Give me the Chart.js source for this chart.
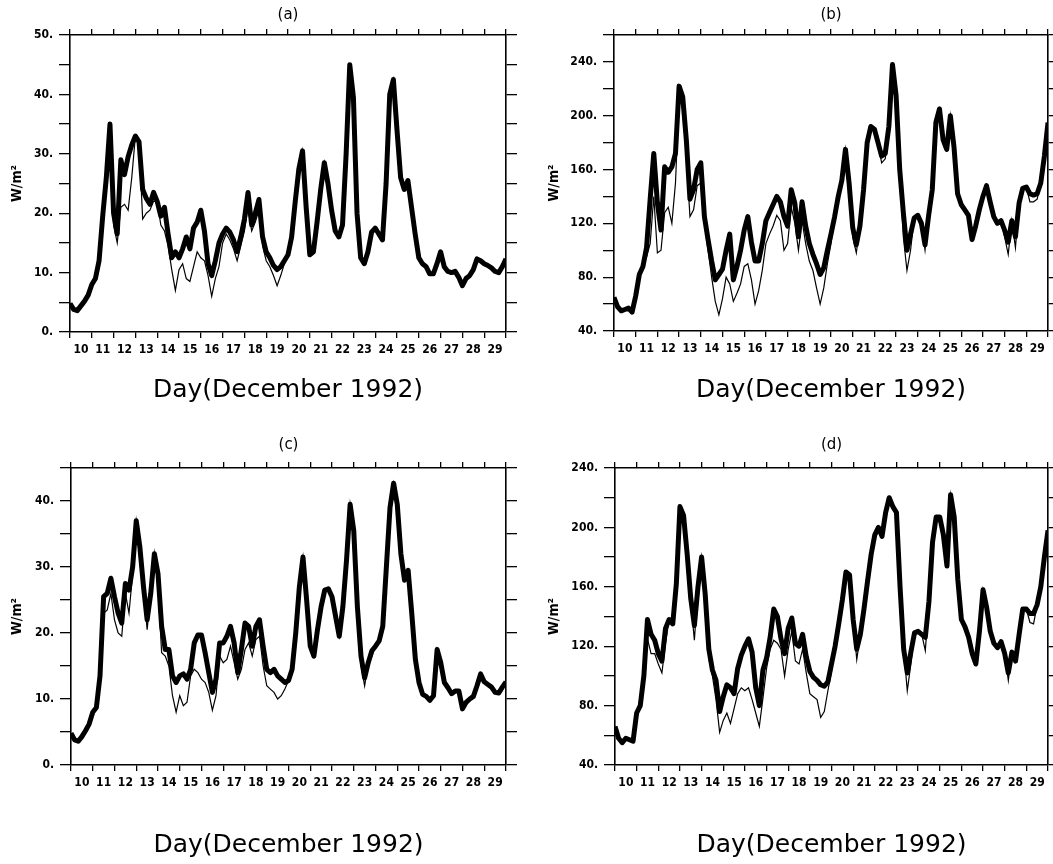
<!DOCTYPE html>
<html>
<head>
<meta charset="utf-8">
<title>Day(December 1992)</title>
<script src="https://cdn.jsdelivr.net/npm/chart.js@4.4.0/dist/chart.umd.min.js"></script>
<style>
  body { margin: 0; background: #fff; }
  #wrap { position: relative; width: 1053px; height: 864px; overflow: hidden; }
  #wrap canvas { position: absolute; }
</style>
</head>
<body>
<div id="wrap">
  <canvas id="panelA" width="520" height="410" style="left:0;top:0"></canvas>
  <canvas id="panelB" width="523" height="410" style="left:530px;top:0"></canvas>
  <canvas id="panelC" width="520" height="444" style="left:0;top:420px"></canvas>
  <canvas id="panelD" width="523" height="444" style="left:530px;top:420px"></canvas>
</div>
<script>
// samples every 4 hours, 00h Dec 10 .. 00h Dec 30
var days = Array.from({length: 121}, function (_, i) { return 10 + i / 6; });
var dayTicks = ['10','11','12','13','14','15','16','17','18','19','20','21','22','23','24','25','26','27','28','29'];

var aYLabels = [0, 10, 20, 30, 40, 50];
var bYLabels = [40, 80, 120, 160, 200, 240];
var cYLabels = [0, 10, 20, 30, 40];
var dYLabels = [40, 80, 120, 160, 200, 240];

var aThick = [4.8,3.8,3.6,4.4,5.2,6.2,8.0,9.0,12,19.5,
  26,35,20,16.5,29,26.5,29.5,31.5,33,32,
  24,22.5,21.5,23.5,22,19.5,21,16.5,12.5,13.5,
  12.5,14,16,14,17.5,18.5,20.5,17,11.5,9.5,
  12,15,16.5,17.5,16.8,15.5,13.5,16,19,23.5,
  18,20,22.3,16,13.5,12.5,11.2,10.5,11,12,
  13,16,22,27.5,30.5,21,13,13.5,18.5,24,
  28.5,25,20.5,17,16,18,30,45,39.5,20,
  12.5,11.5,13.5,16.8,17.5,16.5,15.5,25,40,42.5,
  34,26,24,25.5,21,16.5,12.5,11.5,11,9.8,
  9.8,11.5,13.5,11,10.2,10,10.2,9.2,7.8,9,
  9.5,10.5,12.3,12,11.5,11.2,10.8,10.2,10,11,
  12.3];
var aThin = [4.8,3.8,3.6,4.4,5.2,6.2,8.0,9.0,12,19.5,
  26,29,18,15,21,21.5,20.5,26,33,32,
  19,20,20.5,22,22,18,17,14.5,10.5,7,
  10.5,11.5,9,8.5,11,13.5,12.5,12,9.5,6,
  9,11,15,16.5,15.5,14,12,14.5,17,21,
  17,18.5,20.5,14.5,12,11,9.5,7.8,9.5,11.5,
  13,16,22,27.5,30.5,21,13,13.5,18.5,24,
  28.5,25,20.5,17,16,18,30,45,39.5,20,
  12.5,11.5,13.5,16.8,17.5,16.5,15.5,25,40,42.5,
  34,26,24,25.5,21,16.5,12.5,11.5,11,9.8,
  9.8,11.5,13.5,11,10.2,10,10.2,9.2,7.8,9,
  9.5,10.5,12.3,12,11.5,11.2,10.8,10.2,10,11,
  12.3];

var bThick = [65,58,55,56,57,54,66,82,88,102,
  138,172,135,115,162,158,162,172,222,214,
  182,138,145,160,165,125,108,92,78,82,
  86,100,112,78,88,100,115,125,106,92,
  92,105,122,128,134,140,136,125,118,145,
  135,110,136,118,105,97,90,82,87,100,
  112,125,140,152,175,150,117,104,118,145,
  180,192,190,180,170,172,192,238,215,160,
  128,100,112,124,126,120,104,126,145,195,
  205,182,175,200,177,142,134,130,126,108,
  118,130,140,148,136,125,120,122,115,106,
  122,110,135,146,147,142,141,142,150,170,
  195];
var bThin = [65,58,55,56,57,54,66,82,88,95,
  105,140,98,100,128,132,120,150,215,205,
  170,125,130,148,150,120,100,80,62,52,
  64,80,75,62,68,75,88,90,78,60,
  70,85,105,112,118,126,122,100,105,132,
  120,100,122,105,92,85,72,60,72,90,
  105,125,140,152,175,150,110,98,118,145,
  180,192,190,180,165,168,192,238,215,160,
  110,85,100,124,126,120,100,126,145,195,
  205,182,175,200,177,142,134,130,126,108,
  118,130,140,148,136,125,120,122,110,97,
  122,102,135,146,147,136,136,138,150,170,
  195];

var cThick = [4.8,3.8,3.6,4.3,5.2,6.2,8,8.7,13.5,25.5,
  26,28.3,25.5,23,21.5,27.5,26.5,30,37,33,
  27,22,26,32,29,21,17.5,17.5,13.5,12.5,
  13.5,13.8,13,14.5,18.5,19.7,19.7,17,14,11,
  13,18.5,18.5,19.5,21,18.5,14,17.5,21.5,21,
  18,21,22,18,14.5,14,14.5,13.5,13,12.5,
  12.8,14.5,20,27,31.5,25,18,16.5,20.5,24,
  26.5,26.7,25.5,22.5,19.5,24,31,39.5,35.5,24,
  16.5,13.2,15.5,17.3,18,18.8,21,30,39,42.7,
  39.5,32,28,29.5,23,16,12.5,10.7,10.4,9.8,
  10.5,17.5,15.5,12.5,11.7,10.8,11.2,11.2,8.5,9.5,
  10,10.4,12,13.8,12.6,12.2,11.8,11,10.9,11.8,
  12.6];
var cThin = [4.8,3.8,3.6,4.3,5.2,6.2,8,8.7,13.5,23,
  23.5,26,22,20,19.5,26,23,29,37,33,
  27,20.5,26,32,27,17,16.5,15,10.5,8,
  10.5,9,9.5,13.5,14.5,14,13,12.5,11,8.3,
  10.5,16.5,15.5,16,18,15.5,13,14.5,17.5,18.5,
  16.5,19,19.5,15,12,11.5,11,10,10.5,11.5,
  12.8,14.5,20,27,31.5,25,18,16.5,20.5,24,
  26.5,26.7,25.5,22.5,19.5,24,31,39.5,35.5,24,
  15,12,15.5,16.5,18,18.8,21,30,39,42.7,
  39.5,32,28,29.5,23,16,12.5,10.7,10.4,9.8,
  10.5,17.5,15.5,12.5,11.7,10.8,11.2,11.2,8.5,9.5,
  10,10.4,12,13.8,12.6,12.2,11.8,11,10.9,11.8,
  12.6];

var dThick = [66,58,55,58,57,56,75,80,100,138,
  128,124,115,110,132,138,135,162,214,208,
  182,152,134,160,180,155,118,104,97,76,
  86,94,92,88,105,114,120,125,116,92,
  80,104,112,126,145,140,125,115,132,139,
  122,120,128,113,103,99,97,94,93,96,
  108,120,135,151,170,168,138,118,128,145,
  164,182,195,200,194,210,220,214,210,160,
  118,102,116,129,130,128,126,150,190,207,
  207,195,174,222,207,165,138,133,126,115,
  108,130,158,146,130,122,119,123,115,102,
  116,110,128,145,145,142,142,148,160,180,
  198];
var dThin = [66,58,55,58,57,56,75,80,100,125,
  115,115,108,102,122,138,135,160,212,206,
  180,150,124,160,180,155,112,100,84,62,
  70,75,68,78,88,92,90,92,84,75,
  66,85,105,118,124,122,118,100,118,130,
  110,108,118,102,88,86,84,72,76,90,
  103,120,135,151,170,168,138,111,128,145,
  164,182,195,200,194,210,220,214,210,160,
  118,90,108,129,130,128,117,150,190,207,
  207,195,174,222,207,165,138,133,126,115,
  108,130,158,146,130,122,119,123,115,97,
  116,110,128,145,145,136,135,148,160,180,
  198];

var tickFont = { family: "'DejaVu Sans Condensed', 'Liberation Sans Narrow', 'DejaVu Sans'", size: 12, weight: 'bold' };

function axisLook(tickLength) {
    return {
        grid: { drawOnChartArea: false, drawTicks: true, tickLength: tickLength, color: '#000', lineWidth: 1.3 },
        border: { display: true, color: '#000', width: 1.6 }
    };
}

function drawPanel(p) {
    var canvas = document.getElementById(p.id);
    var plotWidth = canvas.width - p.box.left - p.box.right;
    var halfDay = plotWidth / (dayTicks.length * 2);
    var series = function (values) {
        return days.map(function (d, i) { return { x: d, y: values[i] }; });
    };
    var yLabel = function (value) {
        return p.yLabels.indexOf(value) >= 0 ? value + '.' : '';
    };
    var look = function (len, extra) { return Object.assign(axisLook(len), extra); };

    new Chart(canvas.getContext('2d'), {
        type: 'line',
        data: {
            datasets: [
                { data: series(p.thin), borderColor: '#000', borderWidth: 1.2, pointRadius: 0, tension: 0 },
                { data: series(p.thick), borderColor: '#000', borderWidth: 5, pointRadius: 0, tension: 0, borderJoinStyle: 'round' }
            ]
        },
        options: {
            responsive: false,
            animation: false,
            devicePixelRatio: 1,
            layout: { padding: 0, autoPadding: false },
            plugins: { legend: { display: false }, tooltip: { enabled: false } },
            scales: {
                x: look(6, {
                    type: 'linear', position: 'bottom', min: 10, max: 30,
                    afterFit: function (s) { s.height = p.box.bottom; },
                    ticks: {
                        stepSize: 1, autoSkip: false, maxRotation: 0, minRotation: 0,
                        labelOffset: halfDay, padding: 5, color: '#000', font: tickFont,
                        callback: function (v) { var t = String(v); return dayTicks.indexOf(t) >= 0 ? t : ''; }
                    },
                    title: {
                        display: true, text: 'Day(December 1992)', color: '#000',
                        font: { family: "'DejaVu Sans'", size: 25 },
                        padding: { top: 0, bottom: p.dayPad }
                    }
                }),
                xTop: look(6, {
                    type: 'linear', position: 'top', min: 10, max: 30,
                    afterFit: function (s) { s.height = p.box.top; },
                    ticks: { display: false, stepSize: 1, autoSkip: false },
                    title: {
                        display: true, text: p.title, color: '#000',
                        font: { family: "'DejaVu Sans'", size: 15 },
                        padding: { top: p.titlePad, bottom: 0 }
                    }
                }),
                y: look(11, {
                    type: 'linear', position: 'left', min: p.yMin, max: p.yMax,
                    afterFit: function (s) { s.width = p.box.left; },
                    ticks: { stepSize: p.yStep, autoSkip: false, padding: 6, color: '#000', font: tickFont, callback: yLabel },
                    title: {
                        display: true, text: 'W/m\u00b2', color: '#000',
                        font: { family: "'DejaVu Sans Condensed', 'DejaVu Sans'", size: 14, weight: 'bold' },
                        padding: { top: p.unitPad, bottom: 0 }
                    }
                }),
                yRight: look(11, {
                    type: 'linear', position: 'right', min: p.yMin, max: p.yMax,
                    afterFit: function (s) { s.width = p.box.right; },
                    ticks: { display: false, stepSize: p.yStep, autoSkip: false }
                })
            }
        }
    });
}

drawPanel({ id: 'panelA', title: '(a)', yMin: 0, yMax: 50, yStep: 5, yLabels: aYLabels, thick: aThick, thin: aThin,
    box: { left: 70, right: 14, top: 35, bottom: 78 }, titlePad: 6, dayPad: 5, unitPad: 9 });
drawPanel({ id: 'panelB', title: '(b)', yMin: 40, yMax: 260, yStep: 20, yLabels: bYLabels, thick: bThick, thin: bThin,
    box: { left: 84, right: 4, top: 35, bottom: 79 }, titlePad: 6, dayPad: 5, unitPad: 16 });
drawPanel({ id: 'panelC', title: '(c)', yMin: 0, yMax: 45, yStep: 5, yLabels: cYLabels, thick: cThick, thin: cThin,
    box: { left: 71, right: 14, top: 48, bottom: 99 }, titlePad: 16, dayPad: 4, unitPad: 9 });
drawPanel({ id: 'panelD', title: '(d)', yMin: 40, yMax: 240, yStep: 20, yLabels: dYLabels, thick: dThick, thin: dThin,
    box: { left: 85, right: 3, top: 48, bottom: 99 }, titlePad: 16, dayPad: 4, unitPad: 16 });
</script>
</body>
</html>
